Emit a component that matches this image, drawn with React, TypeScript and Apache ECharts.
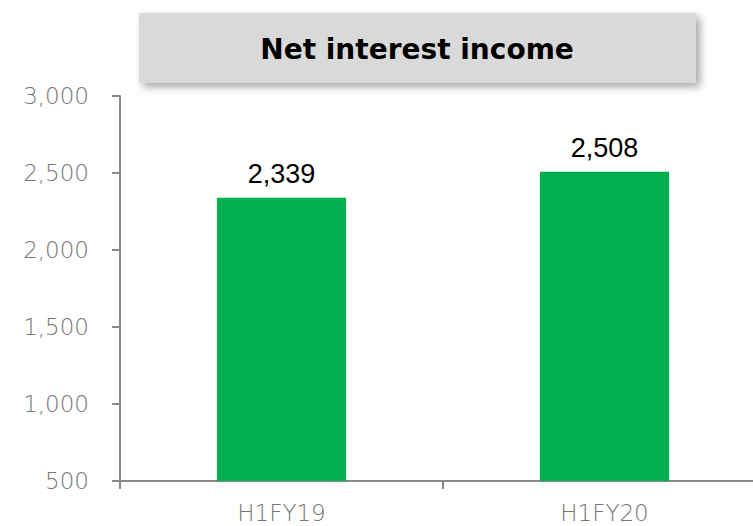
import React, { useEffect, useRef } from "react";
import * as echarts from "echarts";

const categories = ["H1FY19", "H1FY20"];
const values = [2339, 2508];
const yMin = 500;
const yMax = 3000;
const yInterval = 500;
const titleText = "Net interest income";

export default function App() {
  const ref = useRef<HTMLDivElement>(null);
  useEffect(() => {
    if (!ref.current) return;
    const chart = echarts.init(ref.current, null, { renderer: "svg" });
    chart.setOption({
      animation: false,
      grid: { left: 120, top: 96, bottom: 45, right: 14, containLabel: false },
      graphic: [
        {
          type: "rect",
          shape: { x: 139, y: 13, width: 557, height: 70 },
          style: {
            fill: "#d9d9d9",
            shadowBlur: 8,
            shadowOffsetX: 4,
            shadowOffsetY: 4,
            shadowColor: "rgba(0,0,0,0.35)",
          },
          z: 10,
        },
        {
          type: "text",
          x: 417,
          y: 49,
          style: {
            text: titleText,
            fill: "#000",
            font: "bold 28px 'DejaVu Sans'",
            textAlign: "center",
            textVerticalAlign: "middle",
          },
          z: 11,
        },
      ],
      xAxis: {
        type: "category",
        data: categories,
        axisLine: { lineStyle: { color: "#898989", width: 2 } },
        axisTick: { show: true, length: 8, lineStyle: { color: "#898989", width: 2 } },
        axisLabel: {
          color: "#767676",
          fontFamily: "DejaVu Sans",
          fontWeight: 200,
          fontSize: 23,
          margin: 20,
        },
        splitLine: { show: false },
      },
      yAxis: {
        type: "value",
        min: yMin,
        max: yMax,
        interval: yInterval,
        axisLine: { show: true, lineStyle: { color: "#898989", width: 2 } },
        axisTick: { show: true, length: 8, lineStyle: { color: "#898989", width: 2 } },
        axisLabel: {
          color: "#767676",
          fontFamily: "DejaVu Sans",
          fontWeight: 200,
          fontSize: 23,
          margin: 31,
          formatter: (v: number) => v.toLocaleString("en-US"),
        },
        splitLine: { show: false },
      },
      series: [
        {
          type: "bar",
          data: values,
          barWidth: "40%",
          itemStyle: { color: "#00b050" },
          label: {
            show: true,
            position: "top",
            distance: 10,
            color: "#000",
            fontFamily: "Liberation Sans",
            fontSize: 27,
            formatter: (p: any) => Number(p.value).toLocaleString("en-US"),
          },
        },
      ],
    });
    return () => chart.dispose();
  }, []);
  return (
    <div
      style={{
        position: "absolute",
        left: 0,
        top: 0,
        width: 753,
        height: 526,
        overflow: "hidden",
      }}
    >
      <div ref={ref} style={{ width: 780, height: 526 }} />
    </div>
  );
}
